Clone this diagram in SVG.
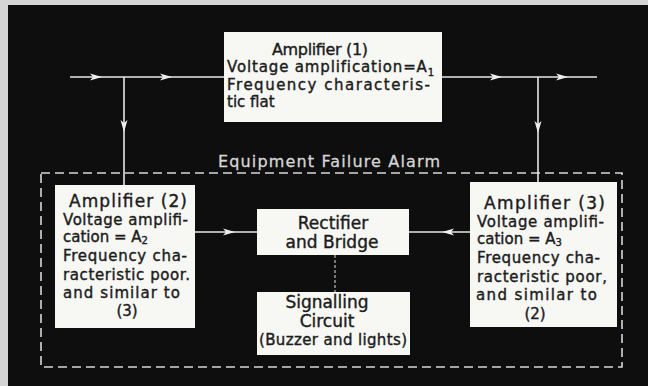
<svg xmlns="http://www.w3.org/2000/svg" width="648" height="386" viewBox="0 0 648 386">
<style>
.box{fill:#f7f7f4;}
.t{font-family:"DejaVu Sans","Liberation Sans",sans-serif;font-size:15px;fill:#1c1c1c;stroke:#1c1c1c;stroke-width:0.4;}
.h{font-size:17px;}
.h1{font-size:16px;}
.c{text-anchor:middle;}
.sub{font-size:10px;}
.ln{stroke:#e6e6e6;stroke-width:1.6;fill:none;}
.dot{stroke:#bdbdbd;stroke-width:1.2;stroke-dasharray:3 2;}
.ah{fill:#eeeeee;}
.frame{fill:none;stroke:#d8d8d8;stroke-width:1.6;stroke-dasharray:9 5;}
.lbl{font-family:"DejaVu Sans","Liberation Sans",sans-serif;font-size:16px;fill:#d6d6d6;stroke:#d6d6d6;stroke-width:0.3;}
</style>
<rect x="0" y="0" width="648" height="386" fill="#d4d4d4"/>
<rect x="8" y="5" width="640" height="381" fill="#0e0e0e"/>

<g id="alarm-frame">
<rect class="frame" x="41" y="173" width="581" height="194"/>
<text class="lbl" x="218" y="167" textLength="222" lengthAdjust="spacing">Equipment Failure Alarm</text>
</g>

<g id="connectors">
<path class="ln" d="M70 77H224 M442 77H597 M124 77V185 M538 77V182 M195 232H257 M409 232H470"/>
<path class="ln dot" d="M335 255V292"/>
<path class="ah" d="M102 77l-12 -3.5l3 3.5l-3 3.5z M172 77l-12 -3.5l3 3.5l-3 3.5z M502 77l-12 -3.5l3 3.5l-3 3.5z M568 77l-12 -3.5l3 3.5l-3 3.5z M235 232l-12 -3.5l3 3.5l-3 3.5z"/>
<path class="ah" d="M124 132l-3.5 -12l3.5 3l3.5 -3z M538 133l-3.5 -12l3.5 3l3.5 -3z"/>
<path class="ah" d="M442 232l12 -3.5l-3 3.5l3 3.5z"/>
</g>

<g id="amp1">
<rect class="box" x="224" y="32" width="218" height="90"/>
<text class="t h1" x="272" y="55" textLength="96" lengthAdjust="spacing">Amplifier (1)</text>
<text class="t" x="227" y="72" letter-spacing="0.85">Voltage amplification=A<tspan class="sub" dy="4">1</tspan></text>
<text class="t" x="227" y="90" textLength="203" lengthAdjust="spacing">Frequency characteris-</text>
<text class="t" x="227" y="107">tic flat</text>
</g>

<g id="amp2">
<rect class="box" x="55" y="185" width="140" height="143"/>
<text class="t h" x="69" y="207" textLength="118" lengthAdjust="spacing">Amplifier (2)</text>
<text class="t" x="63" y="225" textLength="125" lengthAdjust="spacing">Voltage amplifi-</text>
<text class="t" x="63" y="242">cation = A<tspan class="sub" dy="2">2</tspan></text>
<text class="t" x="63" y="261" textLength="124" lengthAdjust="spacing">Frequency cha-</text>
<text class="t" x="63" y="280" textLength="127" lengthAdjust="spacing">racteristic poor.</text>
<text class="t" x="63" y="298" textLength="117" lengthAdjust="spacing">and similar to</text>
<text class="t c" x="127" y="316">(3)</text>
</g>

<g id="amp3">
<rect class="box" x="470" y="182" width="147" height="145"/>
<text class="t h" x="484" y="209" textLength="121" lengthAdjust="spacing">Amplifier (3)</text>
<text class="t" x="477" y="227" textLength="127" lengthAdjust="spacing">Voltage amplifi-</text>
<text class="t" x="477" y="244">cation = A<tspan class="sub" dy="2">3</tspan></text>
<text class="t" x="477" y="263" textLength="123" lengthAdjust="spacing">Frequency cha-</text>
<text class="t" x="477" y="282" textLength="130" lengthAdjust="spacing">racteristic poor,</text>
<text class="t" x="476" y="300" textLength="121" lengthAdjust="spacing">and similar to</text>
<text class="t c" x="535" y="319">(2)</text>
</g>

<g id="rectifier">
<rect class="box" x="257" y="209" width="152" height="46"/>
<text class="t h c" x="333" y="229">Rectifier</text>
<text class="t h c" x="332" y="248">and Bridge</text>
</g>

<g id="signalling">
<rect class="box" x="257" y="292" width="153" height="63"/>
<text class="t h c" x="327" y="308">Signalling</text>
<text class="t h c" x="327" y="327">Circuit</text>
<text class="t c" x="333" y="345" textLength="148" lengthAdjust="spacing">(Buzzer and lights)</text>
</g>
</svg>
